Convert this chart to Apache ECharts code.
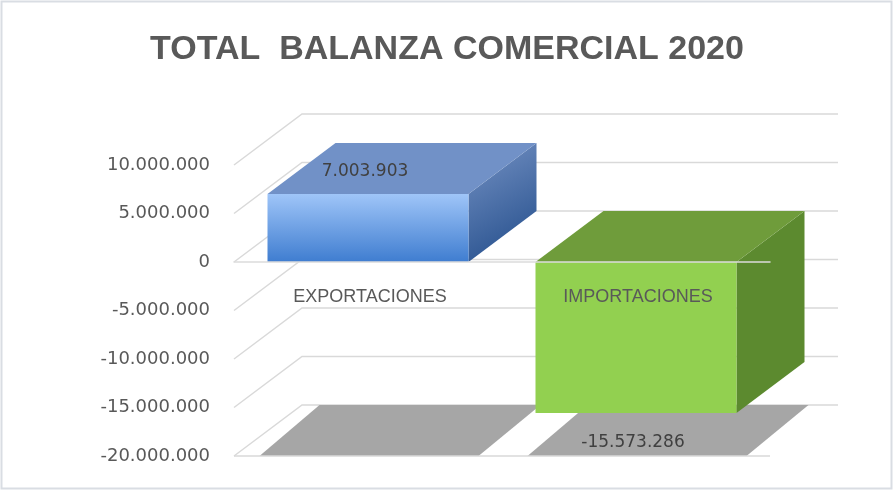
<!DOCTYPE html>
<html>
<head>
<meta charset="utf-8">
<script src="https://cdn.jsdelivr.net/npm/echarts@6/dist/echarts.min.js"></script>
<style>
  html,body{margin:0;padding:0;background:#fff;}
  #chart{width:894px;height:491px;}
</style>
</head>
<body>
<div id="chart"></div>
<script>
const categories = ['EXPORTACIONES', 'IMPORTACIONES'];
const values = [7003903, -15573286];
const yTicks = [-20000000, -15000000, -10000000, -5000000, 0, 5000000, 10000000];

// profundidad del efecto 3D (px)
const DX = 68, DY = -51;

const barColors = [
    {
        front: new echarts.graphic.LinearGradient(0, 0, 0, 1, [
            { offset: 0, color: '#9fc5f8' },
            { offset: 1, color: '#3f7dd0' }
        ]),
        top: '#7191c7',
        side: new echarts.graphic.LinearGradient(0, 0, 1, 1, [
            { offset: 0, color: '#7592c4' },
            { offset: 1, color: '#1f4a88' }
        ])
    },
    { front: '#92d050', top: '#6f9c3b', side: '#5c8a2f' }
];

function fmt(v) {
    const s = Math.abs(Math.round(v)).toString().replace(/\B(?=(\d{3})+(?!\d))/g, '.');
    return (v < 0 ? '-' : '') + s;
}

const yMin = yTicks[0], yMax = yTicks[yTicks.length - 1];
const chart = echarts.init(document.getElementById('chart'));

const option = {
    animation: false,
    title: {
        text: 'TOTAL  BALANZA COMERCIAL 2020',
        left: 'center',
        top: 28,
        textStyle: {
            fontFamily: 'Liberation Sans, sans-serif',
            fontWeight: 'bold',
            fontSize: 34,
            color: '#595959'
        }
    },
    graphic: [{
        type: 'rect',
        shape: { x: 1.5, y: 1.5, width: 890, height: 487 },
        style: { fill: 'none', stroke: '#d9dde3', lineWidth: 2 },
        silent: true
    }],
    grid: { left: 234, right: 124, top: 165, bottom: 35, containLabel: false, outerBoundsMode: 'none' },
    xAxis: {
        type: 'category',
        data: categories,
        z: 10,
        axisLine: { onZero: true, lineStyle: { color: '#dcdcdc', width: 1.5 } },
        axisTick: { show: false },
        axisLabel: { show: false }
    },
    yAxis: {
        type: 'value',
        min: yMin,
        max: yMax,
        interval: yTicks[1] - yTicks[0],
        axisLine: { show: false },
        axisTick: { show: false },
        splitLine: { show: false },
        axisLabel: {
            margin: 24,
            fontFamily: 'DejaVu Sans',
            fontSize: 18,
            color: '#595959',
            formatter: fmt
        }
    },
    series: [
        {
            // paredes / líneas de división en perspectiva
            type: 'custom',
            z: 1,
            silent: true,
            encode: { x: 0, y: 1 },
            data: yTicks.map(t => [0, t]),
            renderItem: function (params, api) {
                const cs = params.coordSys;
                const y = api.coord([0, api.value(1)])[1];
                return {
                    type: 'polyline',
                    shape: { points: [[cs.x, y], [cs.x + DX, y + DY], [cs.x + cs.width + DX, y + DY]] },
                    style: { fill: null, stroke: '#d9d9d9', lineWidth: 1.5 }
                };
            }
        },
        {
            type: 'custom',
            z: 2,
            encode: { x: 0, y: 1 },
            data: values.map((v, i) => [i, v]),
            renderItem: function (params, api) {
                const idx = api.value(0), val = api.value(1);
                const zero = api.coord([idx, 0]);
                const end = api.coord([idx, val]);
                const floorY = api.coord([idx, yMin])[1];
                const bw = api.size([1, 0])[0] * 0.75;
                const L = zero[0] - bw / 2, R = zero[0] + bw / 2;
                const top = Math.min(zero[1], end[1]), bot = Math.max(zero[1], end[1]);
                const col = barColors[idx];
                const labelY = val >= 0 ? top + DY / 2 + 3 : bot + 30;
                return {
                    type: 'group',
                    children: [
                        {
                            type: 'polygon',
                            shape: { points: [[L - 8, floorY], [R + 10, floorY], [R + DX + 4, floorY + DY], [L + DX - 16, floorY + DY]] },
                            style: { fill: '#a6a6a6' }
                        },
                        {
                            type: 'polygon',
                            shape: { points: [[R, top], [R + DX, top + DY], [R + DX, bot + DY], [R, bot]] },
                            style: { fill: col.side }
                        },
                        {
                            type: 'polygon',
                            shape: { points: [[L, top], [R, top], [R + DX, top + DY], [L + DX, top + DY]] },
                            style: { fill: col.top }
                        },
                        {
                            type: 'rect',
                            shape: { x: L, y: top, width: bw, height: bot - top },
                            style: { fill: col.front }
                        },
                        {
                            type: 'text',
                            x: zero[0] - 3,
                            y: labelY,
                            style: {
                                text: fmt(val),
                                align: 'center',
                                verticalAlign: 'middle',
                                fontFamily: 'DejaVu Sans',
                                fontSize: 17,
                                fill: '#404040'
                            }
                        },
                        {
                            // etiqueta de categoría junto al eje en cero
                            type: 'text',
                            x: zero[0] + 2,
                            y: zero[1] + 35,
                            z2: 20,
                            style: {
                                text: categories[idx],
                                align: 'center',
                                verticalAlign: 'middle',
                                fontFamily: 'Liberation Sans',
                                fontSize: 18,
                                fill: '#595959'
                            }
                        }
                    ]
                };
            }
        },
        {
            // borde frontal del suelo
            type: 'custom',
            z: 3,
            silent: true,
            encode: { x: 0, y: 1 },
            data: [[0, yMin]],
            renderItem: function (params, api) {
                const cs = params.coordSys;
                const y = api.coord([0, api.value(1)])[1];
                return {
                    type: 'line',
                    shape: { x1: cs.x, y1: y, x2: cs.x + cs.width, y2: y },
                    style: { stroke: '#d9d9d9', lineWidth: 1.5 }
                };
            }
        }
    ]
};

chart.setOption(option);
window.addEventListener('resize', () => chart.resize());
</script>
</body>
</html>
